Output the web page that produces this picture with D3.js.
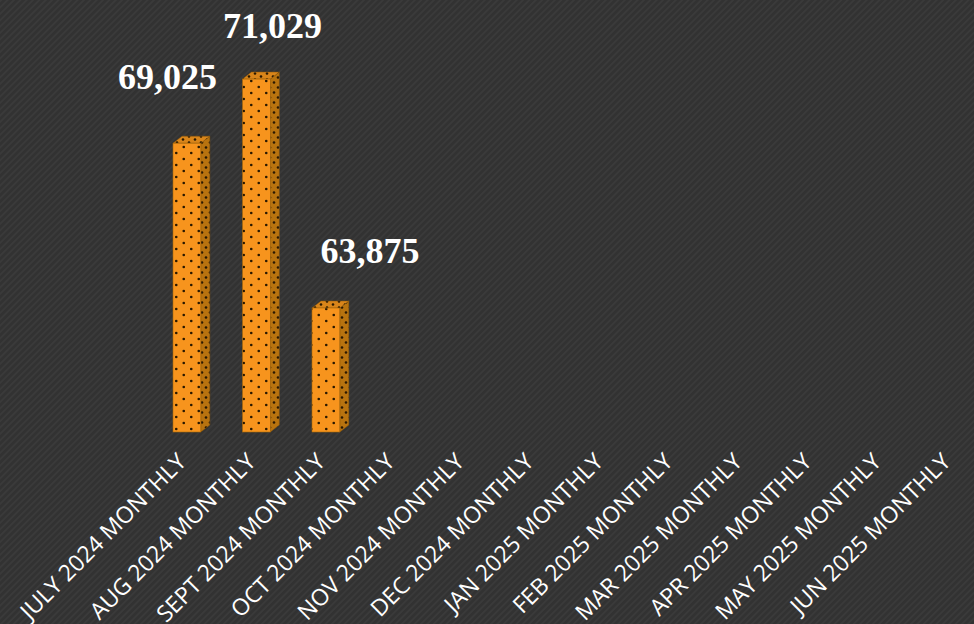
<!DOCTYPE html>
<html>
<head>
<meta charset="utf-8">
<script src="https://cdn.jsdelivr.net/npm/d3@7"></script>
<style>
  html, body { margin: 0; padding: 0; background: #333; }
  svg { display: block; }
</style>
</head>
<body>
<svg id="chart" width="974" height="624"></svg>
<script>
// ---- data ----
const categories = [
  "JULY 2024 MONTHLY", "AUG 2024 MONTHLY", "SEPT 2024 MONTHLY", "OCT 2024 MONTHLY",
  "NOV 2024 MONTHLY", "DEC 2024 MONTHLY", "JAN 2025 MONTHLY", "FEB 2025 MONTHLY",
  "MAR 2025 MONTHLY", "APR 2025 MONTHLY", "MAY 2025 MONTHLY", "JUN 2025 MONTHLY"
];
const values = [69025, 71029, 63875, null, null, null, null, null, null, null, null, null];
const yDomain = [60000, 72000];

// label placement offsets (style, not data)
const labelDx = [-24, 11.5, 39.5];
const labelDy = [-54, -41, -45];

// ---- layout ----
const W = 974, H = 624;
const depthX = 9, depthY = 7;
const svg = d3.select("#chart");
const defs = svg.append("defs");

// background stripes
const bg = defs.append("pattern").attr("id", "bgStripe")
  .attr("patternUnits", "userSpaceOnUse").attr("width", 4.5).attr("height", 4.5)
  .attr("patternTransform", "rotate(45)");
bg.append("rect").attr("width", 4.5).attr("height", 4.5).attr("fill", "#323232");
bg.append("rect").attr("width", 1.8).attr("height", 4.5).attr("fill", "#3a3a3a");

function dotPattern(id, base, dot, w, h) {
  const p = defs.append("pattern").attr("id", id)
    .attr("patternUnits", "userSpaceOnUse").attr("width", w).attr("height", h);
  p.append("rect").attr("width", w).attr("height", h).attr("fill", base);
  [[w * 0.25, h * 0.25], [w * 0.75, h * 0.75]].forEach(([cx, cy]) =>
    p.append("circle").attr("cx", cx).attr("cy", cy).attr("r", 1.3).attr("fill", dot));
}
dotPattern("dotFront", "#f7941d", "#2a1800", 15, 12);
dotPattern("dotSide", "#b8730f", "#2a1800", 8, 10);
dotPattern("dotTop", "#d9851a", "#2a1800", 12, 6);

svg.append("rect").attr("width", W).attr("height", H).attr("fill", "url(#bgStripe)");

const step = 69.5;
const x = d3.scaleBand().domain(categories)
  .range([173 - 0.3 * step, 173 - 0.3 * step + 12 * step])
  .paddingInner(0.6).paddingOuter(0.3);
const y = d3.scaleLinear().domain(yDomain).range([432, 48]);

const bw = x.bandwidth();
const data = categories.map((c, i) => ({ c, v: values[i], i })).filter(d => d.v != null);

const g = svg.append("g");
const bars = g.selectAll("g.bar").data(data).join("g").attr("class", "bar");

// side face
bars.append("path")
  .attr("d", d => {
    const x1 = x(d.c) + bw, yt = y(d.v), yb = y(yDomain[0]);
    return `M${x1},${yt} L${x1 + depthX},${yt - depthY} L${x1 + depthX},${yb - depthY} L${x1},${yb} Z`;
  })
  .attr("fill", "url(#dotSide)").attr("stroke", "#8a5608").attr("stroke-width", 0.5);
// top face
bars.append("path")
  .attr("d", d => {
    const x0 = x(d.c), x1 = x0 + bw, yt = y(d.v);
    return `M${x0},${yt} L${x0 + depthX},${yt - depthY} L${x1 + depthX},${yt - depthY} L${x1},${yt} Z`;
  })
  .attr("fill", "url(#dotTop)").attr("stroke", "#8a5608").attr("stroke-width", 0.5);
// front face
bars.append("rect")
  .attr("x", d => x(d.c))
  .attr("y", d => y(d.v))
  .attr("width", bw)
  .attr("height", d => y(yDomain[0]) - y(d.v))
  .attr("fill", "url(#dotFront)").attr("stroke", "#a86808").attr("stroke-width", 0.6);

// value labels
g.selectAll("text.val").data(data).join("text").attr("class", "val")
  .attr("x", d => x(d.c) + bw / 2 + depthX / 2 + labelDx[d.i])
  .attr("y", d => y(d.v) + labelDy[d.i])
  .attr("text-anchor", "middle")
  .attr("font-family", "'Liberation Serif', 'Times New Roman', serif")
  .attr("font-weight", "bold")
  .attr("font-size", 36)
  .attr("fill", "#ffffff")
  .text(d => d3.format(",")(d.v));

// category axis labels
const xAxis = d3.axisBottom(x).tickSize(0).tickPadding(0);
const ax = svg.append("g").attr("transform", `translate(${depthX / 2 - 16},451)`).call(xAxis);
ax.select(".domain").remove();
ax.attr("font-size", null).attr("font-family", null);
ax.selectAll("text")
  .attr("fill", "#ffffff")
  .style("font-family", "'Open Sans', 'Noto Sans', sans-serif")
  .style("font-size", "23px")
  .attr("text-anchor", "end")
  .attr("dy", "0.75em")
  .attr("transform", "rotate(-45)");
</script>
</body>
</html>
